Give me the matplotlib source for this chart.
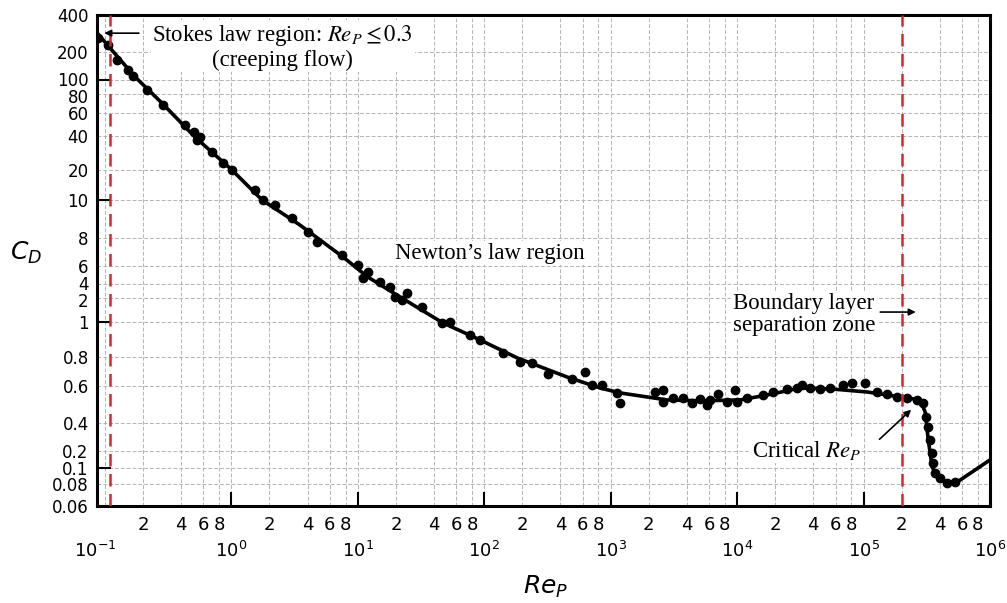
import numpy as np
import matplotlib
matplotlib.use("Agg")
import matplotlib.pyplot as plt
from matplotlib.transforms import ScaledTranslation

# drag curve (solid line)
curve_re = [0.0865, 0.173, 0.282, 0.515, 1.01, 1.75, 3.49, 7.64, 12.0, 21.6, 47.2, 92.7,
            182, 452, 825, 1190, 2790, 5100, 10570, 17300, 31500, 57500, 107000,
            195000, 281000, 307000, 325000, 349000, 383000, 459000, 551000, 1000000]
curve_cd = [286, 108, 69.8, 39.2, 20.0, 10.0, 8.63, 6.58, 4.68, 2.10, 0.994, 0.892,
            0.793, 0.656, 0.587, 0.556, 0.515, 0.51, 0.515, 0.544, 0.587, 0.580, 0.562,
            0.532, 0.515, 0.451, 0.262, 0.104, 0.0882, 0.0811, 0.0823, 0.139]

# measured points (dots)
dots_re = [0.088, 0.106, 0.124, 0.152, 0.167, 0.215, 0.288, 0.43, 0.506, 0.535, 0.565, 0.703,
           0.859, 1.01, 1.54, 1.78, 2.21, 3.02, 4.04, 4.76, 7.5, 10.0, 11.0, 12.0, 15.0, 18.0,
           19.7, 22.4, 24.5, 32.2, 46.4, 53.7, 77.3, 92.7, 141, 192, 239, 320, 495, 628, 713,
           855, 1124, 1188, 2249, 2600, 2600, 3119, 3741, 4406, 5100, 5794, 6124, 7080, 8340,
           9640, 10000, 12000, 16070, 19280, 24900, 29850, 32700, 37800, 45400, 54500, 69000,
           81300, 103000, 128000, 154000, 184500, 221000, 265000, 296000, 313000, 325000,
           336000, 349000, 356000, 369000, 404000, 459000, 531000]
dots_cd = [260, 228, 164, 128, 110, 85.3, 67.8, 48.6, 43.0, 36.9, 39.2, 28.8,
           23.1, 20.0, 12.6, 10.0, 9.71, 9.0, 8.28, 7.68, 6.71, 6.07, 4.58, 5.24, 4.19, 3.45,
           2.10, 1.89, 2.56, 1.54, 0.994, 1.0, 0.920, 0.892, 0.821, 0.761, 0.754, 0.676, 0.643,
           0.689, 0.606, 0.606, 0.556, 0.498, 0.562, 0.574, 0.504, 0.526, 0.526, 0.498, 0.520,
           0.487, 0.515, 0.550, 0.504, 0.574, 0.504, 0.526, 0.544, 0.562, 0.581, 0.587, 0.606,
           0.587, 0.581, 0.587, 0.606, 0.618, 0.618, 0.562, 0.550, 0.532, 0.526, 0.515, 0.498,
           0.427, 0.362, 0.262, 0.184, 0.123, 0.0933, 0.087, 0.0811, 0.0823]

# y axis labels of the original (an uneven, hand made log axis)
y_ticks = [0.06, 0.08, 0.1, 0.2, 0.4, 0.6, 0.8, 1, 2, 4, 6, 8, 10, 20, 40, 60, 80, 100, 200, 400]
y_tick_labels = ["0.06", "0.08", "0.1", "0.2", "0.4", "0.6", "0.8", "1", "2", "4", "6", "8",
                 "10", "20", "40", "60", "80", "100", "200", "400"]
y_major = [0.1, 1, 10, 100]
# height of each labelled row above the bottom of the frame (px), used to build the scale
y_rows = [0, 22, 38, 55, 83, 120, 149, 184, 208, 222, 240, 268, 306, 336, 370, 393, 412, 426, 454, 491]

stokes_re = 0.11
critical_re = 2e5

log_nodes = np.log10(y_ticks)
row_nodes = np.array(y_rows, dtype=float)


def fwd(v):
    v = np.clip(np.asarray(v, dtype=float), 1e-12, None)
    return np.interp(np.log10(v), log_nodes, row_nodes)


def inv(u):
    return 10 ** np.interp(np.asarray(u, dtype=float), row_nodes, log_nodes)


plt.rcParams["font.family"] = ["DejaVu Sans"]

fig = plt.figure(figsize=(10.07, 6.03), dpi=100)
ax = fig.add_axes([97 / 1007, 1 - 506 / 603, 893 / 1007, 491 / 603])

ax.set_xscale("log")
ax.set_yscale("function", functions=(fwd, inv))
ax.set_xlim(0.0865, 1e6)
ax.set_ylim(0.06, 400)

# grid like graph paper
x_minor = [m * 10.0 ** k for k in range(-1, 6) for m in (2, 4, 6, 8)]
x_minor_labels = [str(m) for k in range(-1, 6) for m in (2, 4, 6, 8)]
ax.set_xticks([10.0 ** k for k in range(-1, 7)])
ax.set_xticks(x_minor, x_minor_labels, minor=True)

y_minor = [v for v in y_ticks if v not in y_major]
ax.set_yticks(y_major, [y_tick_labels[y_ticks.index(v)] for v in y_major])
ax.set_yticks(y_minor, [y_tick_labels[y_ticks.index(v)] for v in y_minor], minor=True)

ax.grid(which="both", color="#b4b4b4", linestyle=(0, (4, 2)), linewidth=0.7)
ax.set_axisbelow(True)

ax.tick_params(axis="x", which="major", direction="in", length=10, width=1.5,
               pad=25, labelsize=13)
ax.tick_params(axis="x", which="minor", length=0, pad=7, labelsize=13)
ax.tick_params(axis="y", which="major", direction="in", length=10, width=1.5,
               pad=6, labelsize=12)
ax.tick_params(axis="y", which="minor", length=0, pad=6, labelsize=12)
for s in ax.spines.values():
    s.set_linewidth(2.2)


def nudge(tick, dx_px, dy_px):
    lab = tick.label1
    lab.set_transform(lab.get_transform() +
                      ScaledTranslation(dx_px / 100, dy_px / 100, fig.dpi_scale_trans))


# no tick mark at 10^-1, only its label (sitting a bit to the left, as printed)
xt0 = ax.xaxis.get_major_ticks()[0]
xt0.tick1line.set_visible(False)
nudge(xt0, -10, 0)

# the crowded y labels sit slightly off their rows in the original
ymaj = ax.yaxis.get_major_ticks()
ymin = ax.yaxis.get_minor_ticks()
nudge(ymaj[y_major.index(100)], 0, 1)
nudge(ymin[y_minor.index(80)], 0, -2)
nudge(ymin[y_minor.index(4)], 0, 1)
nudge(ymin[y_minor.index(2)], 0, -2)

# data
ax.plot(curve_re, curve_cd, color="black", lw=2.6, zorder=3)
ax.plot(dots_re, dots_cd, "o", color="black", ms=6, zorder=4)

ax.axvline(stokes_re, color="#d9252a", lw=1.8, ls=(0, (5, 3)), zorder=5)
ax.axvline(critical_re, color="#d9252a", lw=1.8, ls=(0, (5, 3)), zorder=5)

# annotations (serif, like the original)
serif = dict(family="Liberation Serif", math_fontfamily="stix", fontsize=16.4)
box = dict(facecolor="white", edgecolor="none", pad=1)
arrow = dict(arrowstyle="-|>", color="black", lw=1.2, mutation_scale=10)

ax.text(0.208, 0.935, "Stokes law region: $Re_P \\leq 0.3$\n(creeping flow)",
        transform=ax.transAxes, ha="center", va="center", linespacing=1.1,
        bbox=box, zorder=6, **serif)
ax.annotate("", xy=(0.005, 0.963), xytext=(0.05, 0.963),
            xycoords="axes fraction", arrowprops=arrow, zorder=6)

ax.text(0.334, 0.515, "Newton\u2019s law region", transform=ax.transAxes,
        ha="left", va="center", bbox=box, zorder=6, **serif)

ax.text(0.712, 0.39, "Boundary layer\nseparation zone", transform=ax.transAxes,
        ha="left", va="center", linespacing=1.05, bbox=box, zorder=6, **serif)
ax.annotate("", xy=(0.92, 0.395), xytext=(0.874, 0.395),
            xycoords="axes fraction", arrowprops=arrow, zorder=6)

ax.text(0.733, 0.114, "Critical $Re_P$", transform=ax.transAxes,
        ha="left", va="center", bbox=box, zorder=6, **serif)
ax.annotate("", xy=(0.914, 0.2), xytext=(0.874, 0.132),
            xycoords="axes fraction", arrowprops=arrow, zorder=6)

ax.set_ylabel("$C_D$", rotation=0, fontsize=18, ha="center", va="center")
ax.yaxis.set_label_coords(-0.08, 0.515)
ax.set_xlabel("$Re_P$", fontsize=18, va="center")
ax.xaxis.set_label_coords(0.502, -0.165)

fig.savefig("out.png", dpi=100)
